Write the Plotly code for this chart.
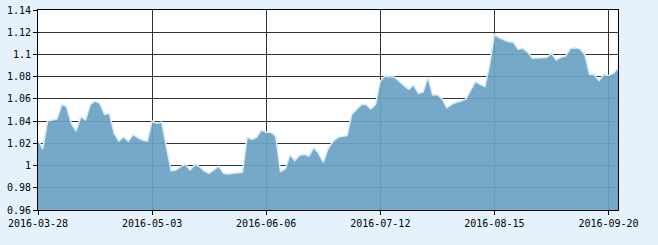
import pandas as pd
import plotly.graph_objects as go

holidays = ["2016-04-04", "2016-05-02", "2016-06-09", "2016-06-10", "2016-09-15", "2016-09-16"]
dates = [d.strftime("%Y-%m-%d") for d in pd.bdate_range("2016-03-28", "2016-09-22")
         if d.strftime("%Y-%m-%d") not in holidays]

values = [
    1.023, 1.015, 1.040, 1.041, 1.042, 1.055, 1.053, 1.038, 1.031, 1.044,
    1.041, 1.055, 1.058, 1.056, 1.046, 1.047, 1.029, 1.022, 1.026, 1.022,
    1.028, 1.025, 1.023, 1.022, 1.040, 1.038, 1.039, 1.017, 0.9955, 0.996,
    0.999, 1.001, 0.996, 1.001, 0.999, 0.995, 0.993, 0.996, 0.9995, 0.993,
    0.9925, 0.993, 0.9935, 0.994, 1.0255, 1.0235, 1.0255, 1.032, 1.030, 1.030,
    1.0265, 0.9946, 0.997, 1.0096, 1.0045, 1.009, 1.0102, 1.0085, 1.0162, 1.011,
    1.003, 1.015, 1.0216, 1.0252, 1.0264, 1.027, 1.046, 1.0506, 1.055, 1.055,
    1.051, 1.055, 1.076, 1.0807, 1.0796, 1.0796, 1.0756, 1.072, 1.0687, 1.0725,
    1.065, 1.066, 1.0796, 1.0635, 1.064, 1.060, 1.052, 1.055, 1.057, 1.058,
    1.060, 1.0685, 1.0756, 1.073, 1.071, 1.0906, 1.118, 1.115, 1.113, 1.1115,
    1.111, 1.1047, 1.1055, 1.102, 1.0966, 1.0966, 1.0966, 1.0972, 1.101, 1.095,
    1.0975, 1.0987, 1.1055, 1.106, 1.105, 1.100, 1.0822, 1.0817, 1.0766, 1.082,
    1.081, 1.083, 1.0876,
]

x_ticks = ["2016-03-28", "2016-05-03", "2016-06-06", "2016-07-12", "2016-08-15", "2016-09-20"]
y_ticks = [0.96, 0.98, 1.00, 1.02, 1.04, 1.06, 1.08, 1.10, 1.12, 1.14]
y_labels = ["0.96", "0.98", "1", "1.02", "1.04", "1.06", "1.08", "1.1", "1.12", "1.14"]

fig = go.Figure()
fig.add_trace(go.Scatter(
    x=dates, y=values, mode="lines", fill="tozeroy",
    line=dict(color="rgba(215,236,250,1)", width=1.5),
    fillcolor="rgba(108,162,195,0.93)",
    hoverinfo="skip",
))

font = dict(family="DejaVu Sans Mono, monospace", size=10, color="#000")
fig.update_layout(
    width=658, height=245,
    margin=dict(l=38, r=40, t=10, b=35, autoexpand=False),
    paper_bgcolor="#e6f2fb",
    plot_bgcolor="#ffffff",
    showlegend=False,
    font=font,
    xaxis=dict(
        type="category", range=[0, len(dates) - 1], automargin=False,
        tickmode="array", tickvals=x_ticks, ticktext=x_ticks,
        showgrid=True, gridcolor="#333333", gridwidth=1,
        showline=True, linecolor="#000", linewidth=1, mirror=True,
        ticks="outside", ticklen=4, tickcolor="#000", tickfont=font,
        zeroline=False,
    ),
    yaxis=dict(
        range=[0.96, 1.14], tickmode="array", tickvals=y_ticks, ticktext=y_labels,
        automargin=False,
        showgrid=True, gridcolor="#333333", gridwidth=1,
        showline=True, linecolor="#000", linewidth=1, mirror=True,
        ticks="outside", ticklen=4, tickcolor="#000", tickfont=font,
        zeroline=False,
    ),
)

fig.write_html("out.html")
